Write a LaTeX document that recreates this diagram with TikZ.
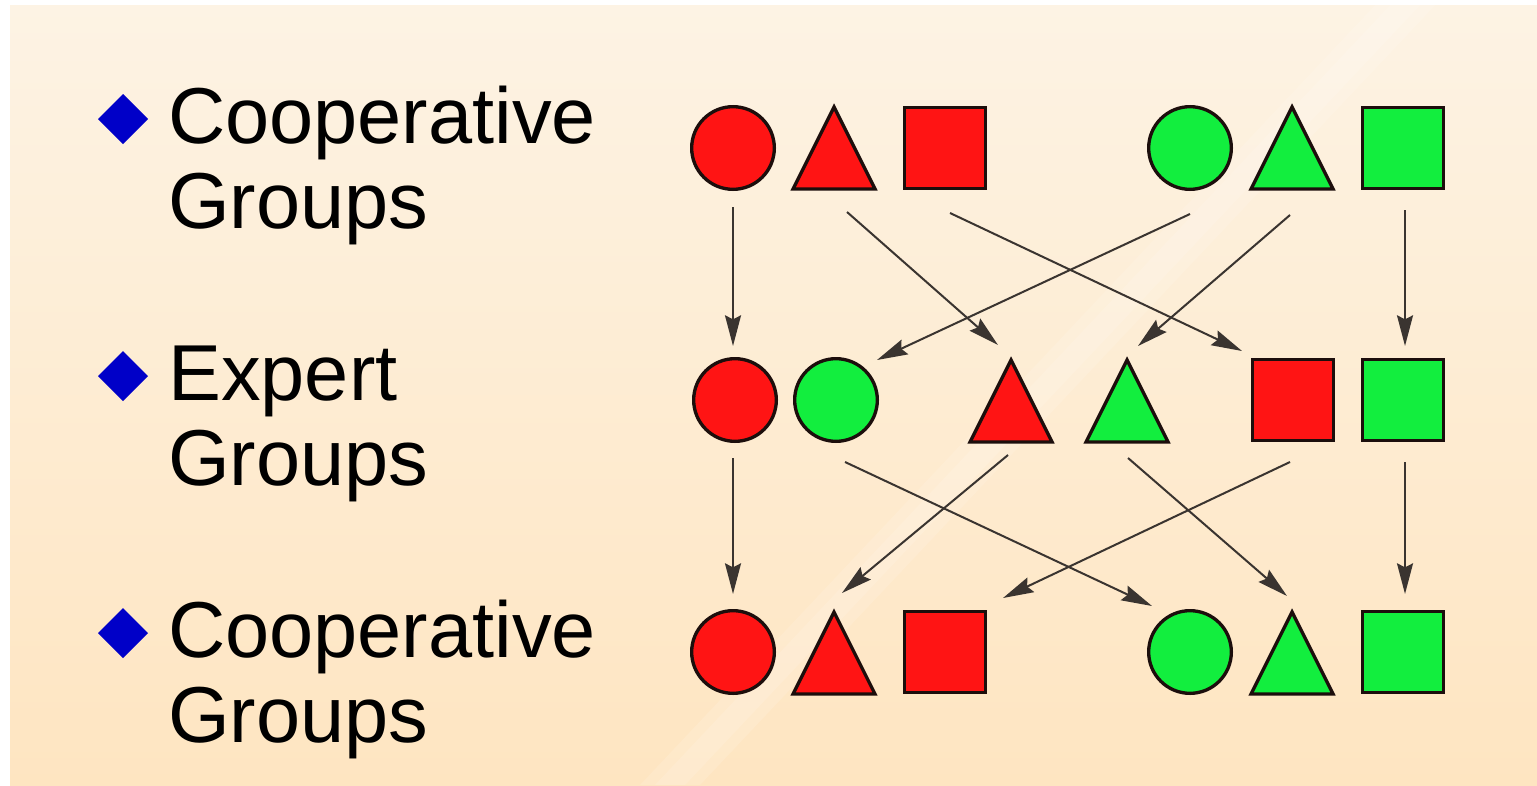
\documentclass[tikz,border=0pt]{standalone}
\usepackage{fontspec}
\setmainfont{Liberation Sans}
\usetikzlibrary{arrows.meta}
\definecolor{bgtop}{HTML}{FDF3E4}
\definecolor{bgbot}{HTML}{FEE5C1}
\definecolor{shred}{HTML}{FF1414}
\definecolor{shgreen}{HTML}{12EE3E}
\definecolor{shline}{HTML}{1C0E0C}
\definecolor{arrowc}{HTML}{3A3430}
\definecolor{bullet}{HTML}{0000C8}
\newcommand\mytri[4]{% name, color, x, ybase
  \filldraw[tri,fill=#2] (#3-41,#4) -- (#3,#4-82) -- (#3+41,#4) -- cycle;
  \coordinate (#1) at (#3,#4-41);}
\begin{document}
\begin{tikzpicture}[x=0.75pt,y=-0.75pt,
  circ/.style={circle,draw=shline,line width=2.5pt,minimum size=62pt,inner sep=0pt},
  sq/.style={rectangle,draw=shline,line width=2.5pt,minimum size=60.5pt,inner sep=0pt},
  tri/.style={draw=shline,line width=2.5pt,line join=miter},
  conn/.style={draw=arrowc,line width=1.5pt,-{Stealth[length=23pt,width=12pt,inset=3pt]}},
  lbl/.style={inner sep=0pt,anchor=base west,align=left,font=\fontsize{59.5}{63.75}\selectfont},
  bul/.style={fill=bullet}]
\useasboundingbox (0,0) rectangle (1537,785);
\fill[white] (0,0) rectangle (1537,785);
\shade[top color=bgtop,bottom color=bgbot] (10,5) rectangle (1537,785);
% soft diagonal streak
\fill[white,opacity=0.12] (640,785) -- (700,785) -- (1440,0) -- (1380,0) -- cycle;
\fill[white,opacity=0.12] (655,785) -- (685,785) -- (1425,0) -- (1395,0) -- cycle;
% bullets
\fill[bul] (98,119) -- (123,94) -- (148,119) -- (123,144) -- cycle;
\fill[bul] (98,376) -- (123,351) -- (148,376) -- (123,401) -- cycle;
\fill[bul] (98,633) -- (123,608) -- (148,633) -- (123,658) -- cycle;
% labels (base anchor = baseline of last line)
\node[lbl] (lab1) at (168,228) {Cooperative\\Groups};
\node[lbl] (lab2) at (168,485) {Expert\\Groups};
\node[lbl] (lab3) at (168,742) {Cooperative\\Groups};
% top row
\node[circ,fill=shred] (rc1) at (733,148) {};
\mytri{rt1}{shred}{834}{189}
\node[sq,fill=shred] (rs1) at (945,148) {};
\node[circ,fill=shgreen] (gc1) at (1190,148) {};
\mytri{gt1}{shgreen}{1292}{189}
\node[sq,fill=shgreen] (gs1) at (1403,148) {};
% middle row
\node[circ,fill=shred] (rc2) at (735,400) {};
\node[circ,fill=shgreen] (gc2) at (836,400) {};
\mytri{rt2}{shred}{1011}{442}
\mytri{gt2}{shgreen}{1127}{442}
\node[sq,fill=shred] (rs2) at (1293,400) {};
\node[sq,fill=shgreen] (gs2) at (1403,400) {};
% bottom row
\node[circ,fill=shred] (rc3) at (733,652) {};
\mytri{rt3}{shred}{834}{694}
\node[sq,fill=shred] (rs3) at (945,652) {};
\node[circ,fill=shgreen] (gc3) at (1190,652) {};
\mytri{gt3}{shgreen}{1292}{694}
\node[sq,fill=shgreen] (gs3) at (1403,652) {};
% connector end points
\coordinate (a1s) at (733,207); \coordinate (a1e) at (733,346);
\coordinate (a2s) at (847,212); \coordinate (a2e) at (998,345);
\coordinate (a3s) at (950,213); \coordinate (a3e) at (1242,351);
\coordinate (a4s) at (1190,214); \coordinate (a4e) at (877,360);
\coordinate (a5s) at (1290,215); \coordinate (a5e) at (1138,346);
\coordinate (a6s) at (1405,210); \coordinate (a6e) at (1405,346);
\coordinate (b1s) at (733,458); \coordinate (b1e) at (733,594);
\coordinate (b2s) at (845,462); \coordinate (b2e) at (1152,606);
\coordinate (b3s) at (1008,455); \coordinate (b3e) at (842,593);
\coordinate (b4s) at (1128,458); \coordinate (b4e) at (1287,596);
\coordinate (b5s) at (1290,462); \coordinate (b5e) at (1003,598);
\coordinate (b6s) at (1405,462); \coordinate (b6e) at (1405,594);
\foreach \c in {a1,a2,a3,a4,a5,a6,b1,b2,b3,b4,b5,b6}
  \draw[conn] (\c s) -- (\c e);
\end{tikzpicture}
\end{document}
